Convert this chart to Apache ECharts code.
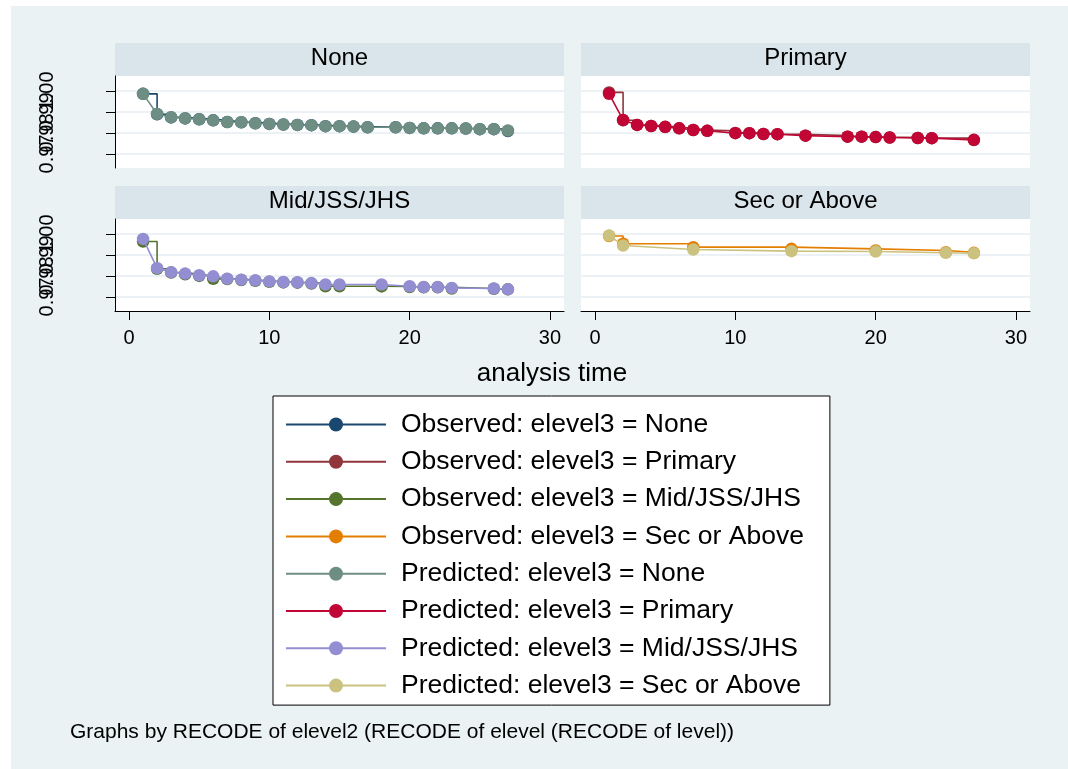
<!DOCTYPE html>
<html>
<head>
<meta charset="utf-8">
<title>Survival by education level</title>
<script src="https://cdn.jsdelivr.net/npm/echarts@6/dist/echarts.min.js"></script>
<style>
  html, body { margin: 0; padding: 0; background: #ffffff; }
  #wrap { position: relative; width: 1068px; height: 769px; background: #ffffff; overflow: hidden; }
  #bg { position: absolute; left: 11px; top: 6px; right: 0; bottom: 0; background: #eaf2f3; }
  #chart { position: absolute; left: 0; top: 0; width: 1068px; height: 769px; }
</style>
</head>
<body>
<div id="wrap"><div id="bg"></div><div id="chart"></div></div>
<script>
// ---- data ----
const panelNames = ['None', 'Primary', 'Mid/JSS/JHS', 'Sec or Above'];
const xTicks = [0, 10, 20, 30];
const yTicks = [0.97, 0.98, 0.99, 1.00];

const noneTime = [1, 2, 3, 4, 5, 6, 7, 8, 9, 10, 11, 12, 13, 14, 15, 16, 17, 19, 20, 21, 22, 23, 24, 25, 26, 27];
const noneObserved = [0.9986, 0.9889, 0.9874, 0.9869, 0.9865, 0.9860, 0.9852, 0.9851, 0.9846, 0.9843, 0.9840, 0.9838, 0.9837, 0.9832, 0.9832, 0.9830, 0.9827, 0.9827, 0.9824, 0.9822, 0.9822, 0.9822, 0.9821, 0.9818, 0.9818, 0.9809];
const nonePredicted = [0.9986, 0.9890, 0.9875, 0.9870, 0.9865, 0.9860, 0.9852, 0.9851, 0.9846, 0.9843, 0.9840, 0.9838, 0.9837, 0.9832, 0.9832, 0.9830, 0.9827, 0.9827, 0.9824, 0.9822, 0.9822, 0.9822, 0.9821, 0.9818, 0.9818, 0.9811];

const primaryTime = [1, 2, 3, 4, 5, 6, 7, 8, 10, 11, 12, 13, 15, 18, 19, 20, 21, 23, 24, 27];
const primaryObserved = [0.9993, 0.9860, 0.9838, 0.9833, 0.9828, 0.9822, 0.9814, 0.9810, 0.9800, 0.9799, 0.9795, 0.9794, 0.9787, 0.9782, 0.9782, 0.9780, 0.9778, 0.9776, 0.9775, 0.9766];
const primaryPredicted = [0.9986, 0.9862, 0.9838, 0.9833, 0.9829, 0.9822, 0.9814, 0.9810, 0.9799, 0.9799, 0.9795, 0.9794, 0.9787, 0.9782, 0.9782, 0.9780, 0.9778, 0.9776, 0.9775, 0.9767];

const midTime = [1, 2, 3, 4, 5, 6, 7, 8, 9, 10, 11, 12, 13, 14, 15, 18, 20, 21, 22, 23, 26, 27];
const midObserved = [0.9964, 0.9834, 0.9816, 0.9808, 0.9800, 0.9786, 0.9785, 0.9780, 0.9777, 0.9772, 0.9769, 0.9768, 0.9764, 0.9751, 0.9751, 0.9750, 0.9747, 0.9746, 0.9746, 0.9740, 0.9739, 0.9736];
const midPredicted = [0.9976, 0.9837, 0.9818, 0.9811, 0.9803, 0.9798, 0.9787, 0.9782, 0.9779, 0.9774, 0.9771, 0.9770, 0.9766, 0.9759, 0.9759, 0.9759, 0.9751, 0.9747, 0.9747, 0.9743, 0.9740, 0.9736];

const secTime = [1, 2, 7, 14, 20, 25, 27];
const secObserved = [0.9990, 0.9953, 0.9937, 0.9929, 0.9921, 0.9913, 0.9910];
const secPredicted = [0.9992, 0.9945, 0.9926, 0.9918, 0.9916, 0.9910, 0.9908];

const observedColors = ['#1a476f', '#90353b', '#55752f', '#e37e00'];
const predictedColors = ['#6e8e84', '#c10534', '#938dd2', '#cac27e'];

const groups = [
  { time: noneTime, obs: noneObserved, pred: nonePredicted },
  { time: primaryTime, obs: primaryObserved, pred: primaryPredicted },
  { time: midTime, obs: midObserved, pred: midPredicted },
  { time: secTime, obs: secObserved, pred: secPredicted }
];

// ---- layout ----
const FONT = '"Liberation Sans", Arial, sans-serif';
const panels = [
  { left: 115, top: 76 },
  { left: 581, top: 76 },
  { left: 115, top: 219 },
  { left: 581, top: 219 }
];
const PW = 449, PH = 92, STRIP_H = 33;
const Y_MIN = 0.9633, Y_MAX = 1.0071;

const pairs = (t, v) => t.map((x, i) => [x, v[i]]);

const grid = panels.map(p => ({
  left: p.left, top: p.top, width: PW, height: PH,
  show: true, backgroundColor: '#ffffff', borderWidth: 0,
  containLabel: false, outerBoundsMode: 'none'
}));

const xAxis = panels.map((p, i) => {
  const bottom = i >= 2;
  return {
    type: 'value', gridIndex: i, min: -1, max: 31, show: bottom,
    axisLine: { show: bottom, onZero: false, lineStyle: { color: '#000', width: 1 } },
    axisTick: { show: bottom, customValues: xTicks, length: 9, inside: false, lineStyle: { color: '#000', width: 1 } },
    axisLabel: { show: bottom, customValues: xTicks, fontSize: 20, color: '#000', fontFamily: FONT, margin: 17,
      showMinLabel: true, showMaxLabel: true, hideOverlap: false },
    splitLine: { show: false }
  };
});

// Main y axis of each panel: axis line, ticks and gridlines.
// The left panels also get one label-only axis per tick value, so the
// rotated labels are all drawn even where they run into each other.
const yAxis = [];
const mainYIndex = [];
panels.forEach((p, i) => {
  const left = i % 2 === 0;
  mainYIndex.push(yAxis.length);
  yAxis.push({
    type: 'value', gridIndex: i, min: Y_MIN, max: Y_MAX,
    axisLine: { show: left, onZero: false, lineStyle: { color: '#000', width: 1 } },
    axisTick: { show: left, customValues: yTicks, length: 9, inside: false, lineStyle: { color: '#000', width: 1 } },
    axisLabel: { show: false, customValues: yTicks },
    splitLine: { show: true, lineStyle: { color: '#e4edf0', width: 1.5 } }
  });
  if (left) {
    yTicks.forEach(v => {
      yAxis.push({
        type: 'value', gridIndex: i, min: Y_MIN, max: Y_MAX, position: 'left', offset: 0,
        axisLine: { show: false },
        axisTick: { show: false, customValues: [v] },
        axisLabel: {
          show: true, customValues: [v], rotate: 90, fontSize: 20, color: '#000',
          fontFamily: FONT, margin: 58, hideOverlap: false, showMinLabel: true, showMaxLabel: true,
          formatter: val => Number(val).toFixed(2)
        },
        splitLine: { show: false }
      });
    });
  }
});

const series = [];
groups.forEach((g, i) => {
  series.push({
    name: 'Observed: elevel3 = ' + panelNames[i],
    type: 'line', xAxisIndex: i, yAxisIndex: mainYIndex[i],
    data: pairs(g.time, g.obs), step: 'end',
    symbol: 'circle', symbolSize: 12.5, showAllSymbol: true,
    lineStyle: { color: observedColors[i], width: 1.6 },
    itemStyle: { color: observedColors[i] },
    z: 2
  });
});
groups.forEach((g, i) => {
  series.push({
    name: 'Predicted: elevel3 = ' + panelNames[i],
    type: 'line', xAxisIndex: i, yAxisIndex: mainYIndex[i],
    data: pairs(g.time, g.pred),
    symbol: 'circle', symbolSize: 12.5, showAllSymbol: true,
    lineStyle: { color: predictedColors[i], width: 1.6 },
    itemStyle: { color: predictedColors[i] },
    z: 3
  });
});

const graphicEls = [];
panels.forEach((p, i) => {
  graphicEls.push({
    type: 'rect', shape: { x: p.left, y: p.top - STRIP_H, width: PW, height: STRIP_H },
    style: { fill: '#d9e5ea' }, silent: true
  });
  graphicEls.push({
    type: 'text', x: p.left + PW / 2, y: p.top - STRIP_H / 2 - 1,
    style: { text: panelNames[i], fill: '#000', font: '24px ' + FONT, textAlign: 'center', textVerticalAlign: 'middle' },
    silent: true
  });
});
graphicEls.push({
  type: 'text', x: 552, y: 374,
  style: { text: 'analysis time', fill: '#000', font: '26px ' + FONT, textAlign: 'center', textVerticalAlign: 'middle' },
  silent: true
});
graphicEls.push({
  type: 'text', x: 70, y: 732,
  style: { text: 'Graphs by RECODE of elevel2 (RECODE of elevel (RECODE of level))', fill: '#000', font: '21px ' + FONT, textAlign: 'left', textVerticalAlign: 'middle' },
  silent: true
});

const chart = echarts.init(document.getElementById('chart'), null, { renderer: 'canvas' });
chart.setOption({
  animation: false,
  backgroundColor: 'transparent',
  grid: grid,
  xAxis: xAxis,
  yAxis: yAxis,
  legend: {
    orient: 'vertical', left: 273, top: 396,
    backgroundColor: '#ffffff', borderColor: '#000', borderWidth: 1, borderRadius: 0,
    padding: [15, 26, 6, 12],
    itemWidth: 100, itemHeight: 17.5, itemGap: 10.3,
    selectedMode: false,
    data: series.map(s => s.name),
    textStyle: { fontSize: 26.5, lineHeight: 27, color: '#000', fontFamily: FONT, padding: [0, 0, 0, 10] }
  },
  graphic: { elements: graphicEls },
  series: series
});
</script>
</body>
</html>
